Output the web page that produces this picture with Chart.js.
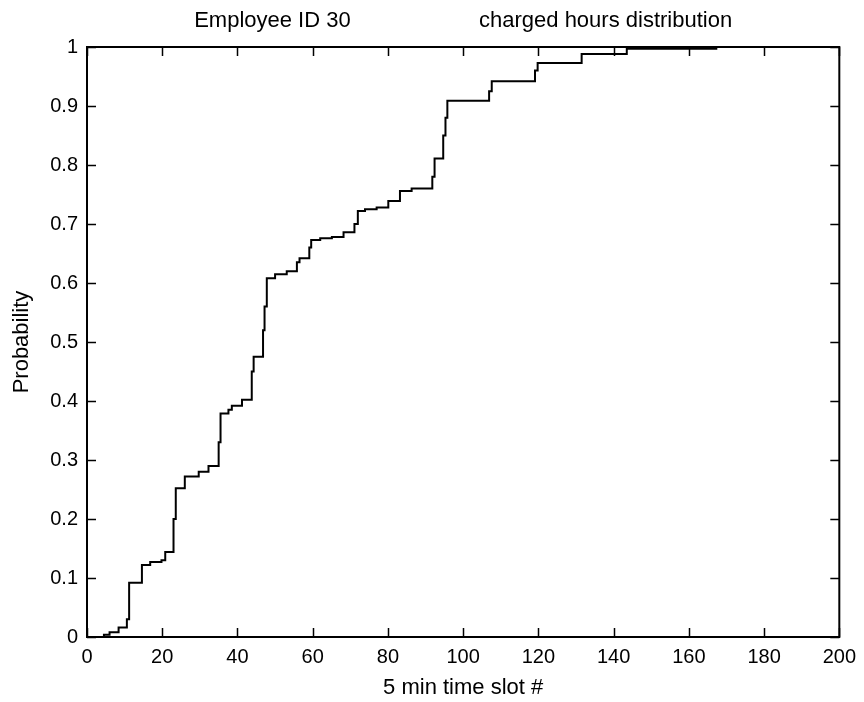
<!DOCTYPE html>
<html>
<head>
<meta charset="utf-8">
<script src="https://cdn.jsdelivr.net/npm/chart.js@4"></script>
<style>
html,body{margin:0;padding:0;background:#fff;}
canvas{display:block;}
</style>
</head>
<body>
<canvas id="c" width="864" height="702"></canvas>
<script>
// ---- data ----
const titleLeft = "Employee ID 30";
const titleRight = "charged hours distribution";
const xAxisTitle = "5 min time slot #";
const yAxisTitle = "Probability";

const xTickValues = [0, 20, 40, 60, 80, 100, 120, 140, 160, 180, 200];
const xTickLabels = ["0", "20", "40", "60", "80", "100", "120", "140", "160", "180", "200"];
const yTickValues = [0, 0.1, 0.2, 0.3, 0.4, 0.5, 0.6, 0.7, 0.8, 0.9, 1];
const yTickLabels = ["0", "0.1", "0.2", "0.3", "0.4", "0.5", "0.6", "0.7", "0.8", "0.9", "1"];

// empirical CDF: slot where the step occurs, and cumulative probability after it
const slotX = [2.2, 4.5, 6.0, 8.4, 10.6, 11.2, 14.6, 16.8, 19.8, 20.8, 23.0, 23.6,
  26.0, 29.7, 32.3, 35.0, 35.5, 37.6, 38.5, 41.2, 43.8, 44.3, 46.8, 47.2, 47.8,
  50.0, 53.1, 55.8, 56.5, 59.1, 59.6, 62.0, 65.1, 68.2, 71.1, 72.0, 73.9, 77.0,
  80.1, 83.2, 86.3, 91.8, 92.4, 94.7, 95.3, 95.8, 106.9, 107.6, 119.1, 119.8,
  131.5, 143.5, 167.3];
const cumProb = [0.0, 0.004, 0.008, 0.016, 0.03, 0.092, 0.122, 0.127, 0.13, 0.144, 0.20, 0.252,
  0.272, 0.28, 0.29, 0.33, 0.379, 0.385, 0.392, 0.402, 0.45, 0.475, 0.52, 0.56, 0.608,
  0.615, 0.62, 0.635, 0.642, 0.66, 0.673, 0.676, 0.678, 0.686, 0.70, 0.722, 0.725, 0.728,
  0.739, 0.756, 0.760, 0.78, 0.811, 0.85, 0.88, 0.909, 0.925, 0.942, 0.96, 0.973,
  0.988, 0.997, 1.0];

// ---- chart ----
const FONT = "'Liberation Sans', Arial, Helvetica, sans-serif";

const framePlugin = {
  id: 'frameTicks',
  afterDatasetsDraw(chart) {
    const {ctx, chartArea: a, scales: {x, y}} = chart;
    ctx.save();
    ctx.strokeStyle = '#000';
    ctx.lineWidth = 1.5;
    const L = 9;
    ctx.beginPath();
    x.ticks.forEach(t => {
      const px = Math.round(x.getPixelForValue(t.value)) + 0.5;
      ctx.moveTo(px, a.bottom); ctx.lineTo(px, a.bottom - L);
      ctx.moveTo(px, a.top); ctx.lineTo(px, a.top + L);
    });
    y.ticks.forEach(t => {
      const py = Math.round(y.getPixelForValue(t.value)) + 0.5;
      ctx.moveTo(a.left, py); ctx.lineTo(a.left + L, py);
      ctx.moveTo(a.right, py); ctx.lineTo(a.right - L, py);
    });
    ctx.stroke();
    ctx.lineWidth = 2;
    ctx.strokeRect(a.left, a.top, a.right - a.left, a.bottom - a.top);
    ctx.restore();
  }
};

new Chart(document.getElementById('c'), {
  type: 'line',
  data: {
    datasets: [{
      data: slotX.map((v, i) => ({x: v, y: cumProb[i]})),
      borderColor: '#000',
      borderWidth: 2,
      pointRadius: 0,
      stepped: true,
      fill: false,
      tension: 0
    }]
  },
  options: {
    responsive: false,
    animation: false,
    devicePixelRatio: 1,
    layout: {padding: {left: 0, right: 23, top: 0, bottom: 0}},
    plugins: {
      legend: {display: false},
      tooltip: {enabled: false},
      title: {
        display: true,
        fullSize: false,
        text: titleLeft + ' '.repeat(21) + titleRight,
        color: '#000',
        font: {family: FONT, size: 22, weight: 'normal'},
        padding: {top: 8, bottom: 12.6}
      }
    },
    scales: {
      x: {
        type: 'linear',
        min: 0, max: 200,
        afterFit: s => { s.height = 65; },
        afterBuildTicks: s => { s.ticks = xTickValues.map(v => ({value: v})); },
        grid: {display: false, drawTicks: false, tickLength: 0},
        border: {display: false},
        ticks: {
          color: '#000',
          font: {family: FONT, size: 20},
          padding: 8,
          autoSkip: false,
          maxRotation: 0,
          callback: (v, i) => xTickLabels[i]
        },
        title: {
          display: true,
          text: xAxisTitle,
          color: '#000',
          font: {family: FONT, size: 22},
          padding: {top: 0, bottom: 1}
        }
      },
      y: {
        type: 'linear',
        min: 0, max: 1,
        afterFit: s => { s.width = 87; },
        afterBuildTicks: s => { s.ticks = yTickValues.map(v => ({value: v})); },
        grid: {display: false, drawTicks: false, tickLength: 0},
        border: {display: false},
        ticks: {
          color: '#000',
          font: {family: FONT, size: 20},
          padding: 9,
          autoSkip: false,
          callback: (v, i) => yTickLabels[i]
        },
        title: {
          display: true,
          text: yAxisTitle,
          color: '#000',
          font: {family: FONT, size: 22},
          padding: {top: 9, bottom: 0}
        }
      }
    }
  },
  plugins: [framePlugin]
});
</script>
</body>
</html>
